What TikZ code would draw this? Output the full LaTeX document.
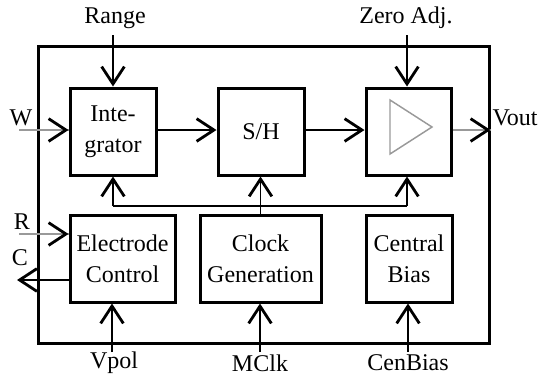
\documentclass[tikz,border=0pt]{standalone}
\usepackage{fontspec}
\setmainfont{Liberation Serif}
\usetikzlibrary{arrows.meta}
\begin{document}
\begin{tikzpicture}[x=0.75pt,y=-0.75pt,
  txt/.style={font=\fontsize{18}{23}\selectfont},
  box/.style={draw,line width=2.25pt,align=center,inner sep=0pt,txt,minimum height=65.25pt},
  lbl/.style={txt,inner sep=0pt},
  arr/.style={line width=1.1pt,-{Straight Barb[length=13pt,width=17pt,line width=2.1pt]}},
  gline/.style={line width=1.1pt,draw=gray!80},
  conn/.style={line width=1.1pt}]
\useasboundingbox (0,0) rectangle (542,383);
% outer frame
\node[draw,line width=2.25pt,minimum width=338.25pt,minimum height=222.75pt,inner sep=0pt] (outer) at (263.5,194.5) {};
% blocks
\node[box,minimum width=64.5pt] (integ) at (113,131.5) {Inte-\\grator};
\node[box,minimum width=64.5pt] (sh) at (261,131.5) {S/H};
\node[box,minimum width=63.75pt] (amp) at (408.5,131.5) {};
\node[box,minimum width=78.75pt] (elec) at (122.5,258.5) {Electrode\\Control};
\node[box,minimum width=90.75pt] (clk) at (260.5,258.5) {Clock\\Generation};
\node[box,minimum width=64.5pt] (bias) at (409,258.5) {Central\\Bias};
% amplifier symbol
\draw[gray!80,line width=1.1pt,line join=miter] (390,100) -- (390,154) -- (432,127) -- cycle;
% labels
\node[lbl] (range) at (115,18) {Range};
\node[lbl] (zero) at (406,18) {Zero Adj.};
\node[lbl] (w) at (21,118) {W};
\node[lbl] (vout) at (515,118) {Vout};
\node[lbl] (r) at (22,222) {R};
\node[lbl] (c) at (20,258) {C};
\node[lbl] (vpol) at (114,363) {Vpol};
\node[lbl] (mclk) at (260,363) {MClk};
\node[lbl] (cenbias) at (408,363) {CenBias};
% input arrows from top
\coordinate (rangeS) at (113,35);
\coordinate (zeroS) at (407,35);
\draw[arr] (rangeS) -- (rangeS |- integ.north);
\draw[arr] (zeroS) -- (zeroS |- amp.north);
% main signal path
\coordinate (wS) at (19,130);
\path (wS -| integ.west) coordinate (wE);
\draw[gline] (wS) -- (wE);
\draw[arr] ([xshift=-1pt]wE) -- (wE);
\draw[arr] (integ.east |- wS) -- (sh.west |- wS);
\draw[arr] (sh.east |- wS) -- (amp.west |- wS);
\path (outer.east |- wS) coordinate (voE);
\draw[gline] (amp.east |- wS) -- (voE);
\draw[arr] ([xshift=-1pt]voE) -- (voE);
% bus
\coordinate (bl) at (113,206);
\coordinate (br) at (407,206);
\draw[conn] (bl) -- (br);
\draw[arr] (bl) -- (bl |- integ.south);
\draw[arr] (clk.north) -- (clk.north |- sh.south);
\draw[arr] (br) -- (br |- amp.south);
% R and C
\coordinate (rS) at (19,234);
\path (rS -| elec.west) coordinate (rE);
\draw[gline] (rS) -- (rE);
\draw[arr] ([xshift=-1pt]rE) -- (rE);
\coordinate (cE) at (17,280);
\draw[arr] (cE -| elec.west) -- (cE);
% bottom inputs
\coordinate (vpolS) at (112,352);
\coordinate (mclkS) at (260,352);
\coordinate (cbS) at (408,352);
\draw[arr] (vpolS) -- (vpolS |- elec.south);
\draw[arr] (mclkS) -- (mclkS |- clk.south);
\draw[arr] (cbS) -- (cbS |- bias.south);
\end{tikzpicture}
\end{document}
